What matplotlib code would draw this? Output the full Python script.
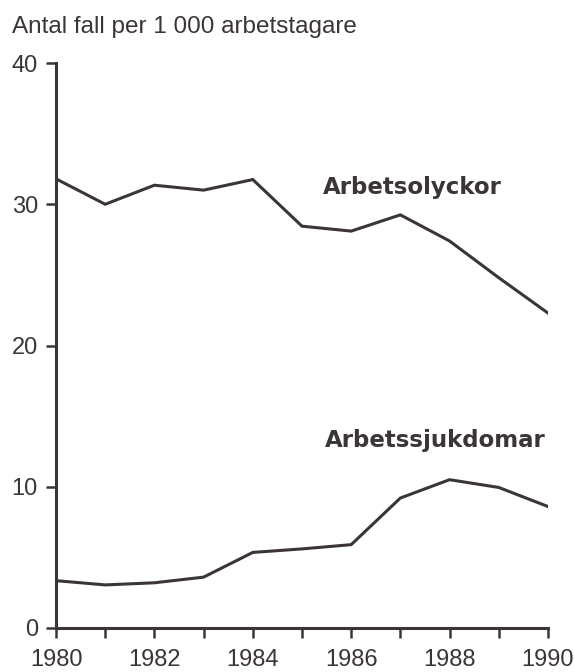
import matplotlib.pyplot as plt

# Data
years = [1980, 1981, 1982, 1983, 1984, 1985, 1986, 1987, 1988, 1989, 1990]
arbetsolyckor = [31.8, 30.0, 31.35, 31.0, 31.75, 28.45, 28.1, 29.25, 27.4, 24.8, 22.3]
arbetssjukdomar = [3.35, 3.05, 3.2, 3.6, 5.35, 5.6, 5.9, 9.2, 10.5, 9.95, 8.6]
y_ticks = [0, 10, 20, 30, 40]
x_labels = [1980, 1982, 1984, 1986, 1988, 1990]

ink = '#3b3536'
plt.rcParams['font.family'] = ['Liberation Sans', 'DejaVu Sans']

fig = plt.figure(figsize=(5.74, 6.72), dpi=100, facecolor='white')
ax = fig.add_axes([0.0976, 0.0655, 0.857, 0.8407])

ax.plot(years, arbetsolyckor, color=ink, lw=2.2, solid_joinstyle='miter')
ax.plot(years, arbetssjukdomar, color=ink, lw=2.2, solid_joinstyle='miter')

ax.set_xlim(1980, 1990)
ax.set_ylim(0, 40)
for s in ['top', 'right']:
    ax.spines[s].set_visible(False)
for s in ['left', 'bottom']:
    ax.spines[s].set_color(ink)
    ax.spines[s].set_linewidth(2.2)

ax.set_yticks(y_ticks)
ax.set_xticks(years)
ax.set_xticklabels([str(y) if y in x_labels else '' for y in years])
ax.tick_params(axis='both', colors=ink, labelcolor=ink, labelsize=17,
               width=1.8, length=7)
ax.tick_params(axis='x', pad=8)
ax.tick_params(axis='y', pad=6)

# series labels (wide bold lettering)
ax.text(1985.43, 30.7, 'Arbetsolyckor', fontsize=16.5, fontweight='bold',
        family='DejaVu Sans', color=ink, ha='left', va='baseline')
ax.text(1985.47, 12.8, 'Arbetssjukdomar', fontsize=16.5, fontweight='bold',
        family='DejaVu Sans', color=ink, ha='left', va='baseline')

fig.text(0.021, 0.951, 'Antal fall per 1 000 arbetstagare', fontsize=17.5,
         color=ink, ha='left', va='baseline')

fig.savefig('out.png', dpi=100, facecolor='white')
